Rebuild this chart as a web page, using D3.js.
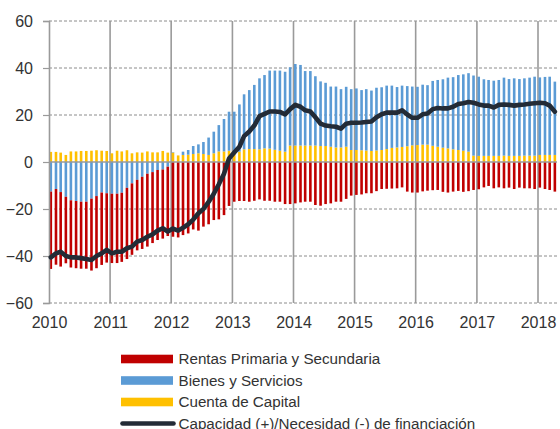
<!DOCTYPE html>
<html>
<head>
<meta charset="utf-8">
<script src="https://cdn.jsdelivr.net/npm/d3@7"></script>
<style>
body { margin: 0; background: #fff; }
text { font-family: "Liberation Sans", Arial, sans-serif; fill: #333; }
</style>
</head>
<body>
<script>
const width = 560;
const height = 429;

// year tick labels
const years = ["2010","2011","2012","2013","2014","2015","2016","2017","2018"];
const yTicks = [60,40,20,0,-20,-40,-60];

// monthly values, Jan 2010 - Apr 2018
const rentas = [
  -32.9,-32.2,-31.7,-28.3,-28.6,-28.6,-28.5,-28.5,-30.6,-30.7,-30.8,-29.5,
  -29.5,-29.5,-29.4,-30.3,-30.4,-30.0,-30.7,-31.0,-30.2,-29.8,-29.4,-29.5,
  -31.8,-32.1,-31.1,-30.4,-28.7,-29.2,-27.5,-26.5,-24.7,-24.4,-22.6,-18.7,
  -16.9,-16.6,-16.6,-16.9,-16.5,-15.9,-16.5,-16.5,-16.9,-16.9,-17.9,-17.9,
  -17.6,-17.2,-16.9,-16.9,-18.3,-18.6,-17.9,-17.6,-16.9,-16.9,-15.7,-14.3,
  -14.0,-13.8,-13.3,-13.3,-12.4,-11.5,-11.4,-11.3,-11.2,-10.8,-12.6,-13.0,
  -13.0,-12.5,-12.2,-12.0,-11.9,-12.7,-13.0,-12.6,-12.3,-12.7,-12.4,-11.9,
  -11.6,-10.8,-10.2,-11.2,-10.8,-11.2,-10.9,-11.5,-10.9,-11.2,-11.2,-11.5,
  -10.9,-11.5,-11.9,-12.6
];
const bienes = [
  -12.6,-11.5,-12.8,-14.8,-16.3,-16.6,-16.9,-16.9,-15.6,-14.5,-13.0,-13.3,
  -13.5,-13.5,-13.1,-11.0,-9.1,-7.6,-6.3,-5.0,-4.3,-3.4,-3.2,-2.0,
  0.2,0.0,1.4,2.0,3.4,3.8,5.1,7.4,9.2,11.2,13.8,16.6,
  17.3,20.1,23.4,25.1,27.3,30.2,31.2,33.2,33.7,34.1,34.0,33.3,
  34.7,34.3,31.7,31.7,29.5,27.5,26.9,25.6,25.9,24.8,25.5,25.9,
  26.2,25.6,26.1,25.7,26.7,26.7,27.0,26.5,25.7,26.1,25.6,25.0,
  24.8,25.5,25.3,27.6,28.4,29.1,30.1,30.7,31.9,32.5,33.4,34.1,
  33.7,32.6,32.3,32.0,32.3,33.2,32.7,33.0,32.7,32.9,33.2,33.6,
  33.0,33.2,33.3,31.2
];
const capital = [
  4.3,4.3,4.0,3.0,4.5,4.5,4.7,4.7,4.8,5.0,4.8,4.7,
  3.7,4.8,4.5,5.0,3.7,4.1,4.0,4.5,4.1,4.1,4.7,4.0,
  4.0,2.8,3.0,3.1,3.4,3.7,3.4,3.0,3.7,4.5,4.5,4.8,
  4.1,4.4,5.4,5.5,5.5,5.4,5.8,5.7,5.2,4.8,4.4,7.0,
  7.0,7.0,7.0,7.0,7.0,6.8,6.8,6.5,6.2,6.2,6.5,5.1,
  5.1,5.0,4.9,4.7,4.9,5.1,5.5,6.0,6.2,6.4,6.7,7.1,
  7.2,7.4,7.4,6.9,6.5,6.1,5.8,5.4,5.1,4.8,4.4,2.7,
  2.6,2.6,2.6,2.6,2.6,2.7,2.6,2.6,2.6,2.7,2.7,2.7,
  3.0,3.0,3.0,3.0
];
const saldo = [
  -40.6,-38.9,-38.2,-40.0,-40.6,-40.6,-40.9,-41.3,-41.7,-40.0,-38.9,-37.4,
  -38.9,-38.2,-38.2,-36.7,-36.0,-33.9,-33.2,-31.8,-30.8,-29.2,-28.2,-29.6,
  -28.3,-29.2,-28.0,-26.5,-24.5,-21.8,-20.0,-17.0,-13.5,-9.5,-5.0,1.5,
  4.0,6.5,11.0,13.0,15.5,19.5,20.5,21.5,21.5,21.3,20.3,22.5,
  24.3,23.5,22.0,21.5,19.0,16.3,15.5,15.2,15.0,14.2,16.3,16.7,
  16.7,16.8,17.0,17.2,19.0,20.3,21.0,21.0,21.0,22.0,20.2,18.8,
  18.8,20.3,20.6,22.5,23.0,22.8,22.8,23.5,24.7,25.0,25.5,25.2,
  24.5,24.0,24.0,23.2,24.3,24.5,24.3,24.0,24.3,24.5,24.8,25.0,
  25.2,25.0,24.0,21.4
];

const seriesNames = ["Rentas Primaria y Secundaria","Bienes y Servicios","Cuenta de Capital","Capacidad (+)/Necesidad (-) de financiación"];
const colors = {rentas:"#c00000", bienes:"#5b9bd5", capital:"#ffc000", saldo:"#232b36"};

const months = d3.timeMonth.range(new Date(2010,0,1), new Date(2018,4,1));
const data = months.map((d,i)=>({date:d, rentas:rentas[i], bienes:bienes[i], capital:capital[i], saldo:saldo[i]}));

const svg = d3.select("body").append("svg")
  .attr("width",width)
  .attr("height",height);

const x = d3.scaleTime()
  .domain([new Date(2010,0,1), new Date(2018,0,1)])
  .range([49, 538]);
const y = d3.scaleLinear().domain([-60,60]).range([303,21]);

const plotRight = 557;
const barW = 2.6;

// horizontal dashed grid
svg.append("g")
  .selectAll("line")
  .data(yTicks.filter(d=>d!==0))
  .join("line")
  .attr("x1", x.range()[0])
  .attr("x2", plotRight)
  .attr("y1", d=>y(d))
  .attr("y2", d=>y(d))
  .attr("stroke","#8c8c8c")
  .attr("stroke-width",1)
  .attr("stroke-dasharray","3,2");

// vertical year lines
svg.append("g")
  .selectAll("line")
  .data(years.slice(1))
  .join("line")
  .attr("x1", d=>x(new Date(+d,0,1)))
  .attr("x2", d=>x(new Date(+d,0,1)))
  .attr("y1", y(60))
  .attr("y2", y(-60))
  .attr("stroke","#9a9a9a")
  .attr("stroke-width",1.6);

// stacked bars
const stack = d3.stack()
  .keys(["capital","bienes","rentas"])
  .offset(d3.stackOffsetDiverging);
const layers = stack(data);

svg.append("g")
  .selectAll("g")
  .data(layers)
  .join("g")
  .attr("fill", d=>colors[d.key])
  .selectAll("rect")
  .data(d=>d)
  .join("rect")
  .attr("x", d=>x(d.data.date)+0.5)
  .attr("width", barW)
  .attr("y", d=>y(Math.max(d[0],d[1])))
  .attr("height", d=>Math.abs(y(d[0])-y(d[1])));

// zero line
svg.append("line")
  .attr("x1", x.range()[0])
  .attr("x2", plotRight)
  .attr("y1", y(0))
  .attr("y2", y(0))
  .attr("stroke","#9a9a9a")
  .attr("stroke-width",1.6);

// y axis
const yAxis = svg.append("g")
  .attr("transform",`translate(${x.range()[0]},0)`)
  .call(d3.axisLeft(y).tickValues(yTicks).tickSize(6).tickPadding(10).tickFormat(d3.format("d")));
yAxis.select(".domain").attr("stroke","#9a9a9a").attr("stroke-width",1.6);
yAxis.selectAll(".tick line").attr("stroke","#9a9a9a").attr("stroke-width",1.2);
yAxis.selectAll("text").attr("font-size","16px").style("font-family","Liberation Sans, Arial, sans-serif").attr("fill","#333");

// x axis
const xAxis = svg.append("g")
  .attr("transform",`translate(0,${y(-60)})`)
  .call(d3.axisBottom(x).tickValues(years.map(d=>new Date(+d,0,1))).tickSize(0).tickPadding(14).tickFormat(d3.timeFormat("%Y")));
xAxis.select(".domain").remove();
xAxis.selectAll("text").attr("font-size","16px").style("font-family","Liberation Sans, Arial, sans-serif").attr("fill","#333");

// net line
const line = d3.line()
  .x(d=>x(d.date)+0.5+barW/2)
  .y(d=>y(d.saldo));
svg.append("path")
  .datum(data)
  .attr("fill","none")
  .attr("stroke",colors.saldo)
  .attr("stroke-width",4.6)
  .attr("stroke-linejoin","round")
  .attr("stroke-linecap","round")
  .attr("d",line);

// legend
const legendKeys = ["rentas","bienes","capital","saldo"];
const legend = svg.append("g").attr("transform","translate(121,359)");
const item = legend.selectAll("g")
  .data(legendKeys)
  .join("g")
  .attr("transform",(d,i)=>`translate(0,${i*21.5})`);
item.filter(d=>d!=="saldo").append("rect")
  .attr("x",0).attr("y",-4.3)
  .attr("width",52).attr("height",8.6)
  .attr("fill",d=>colors[d]);
item.filter(d=>d==="saldo").append("line")
  .attr("x1",1.5).attr("x2",52.5)
  .attr("y1",0).attr("y2",0)
  .attr("stroke",colors.saldo)
  .attr("stroke-width",4.6)
  .attr("stroke-linecap","round");
item.append("text")
  .attr("x",57.5)
  .attr("y",0)
  .attr("dy","0.36em")
  .attr("font-size","15.2px")
  .text((d,i)=>seriesNames[i]);
</script>
</body>
</html>
